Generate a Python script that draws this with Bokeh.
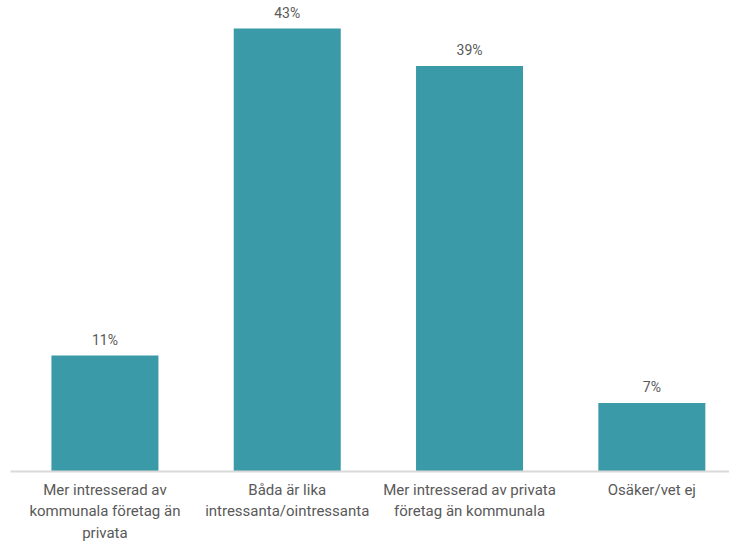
from bokeh.plotting import figure
from bokeh.models import Range1d, FixedTicker, ColumnDataSource, LabelSet
from bokeh.core.properties import value
from bokeh.embed import file_html
from bokeh.resources import INLINE

categories = [
    "Mer intresserad av\nkommunala företag än\nprivata",
    "Båda är lika\nintressanta/ointressanta",
    "Mer intresserad av privata\nföretag än kommunala",
    "Osäker/vet ej",
]
values = [11.15, 42.6, 39.0, 6.6]
value_labels = ["11%", "43%", "39%", "7%"]

positions = list(range(len(categories)))

p = figure(width=729, height=544, output_backend="svg", toolbar_location=None,
           x_range=Range1d(-0.518, 3.426), y_range=Range1d(0, 45.3),
           min_border_left=10, min_border_right=0, min_border_top=0, min_border_bottom=0)

src = ColumnDataSource(dict(x=positions, top=values, lab=value_labels))
p.vbar(x="x", top="top", width=0.587, source=src, color="#3B9AA7", line_color=None)

labels = LabelSet(x="x", y="top", text="lab", source=src, text_align="center",
                  text_baseline="bottom", y_offset=8, text_font_size="14px",
                  text_color="#595959", text_font=value("Roboto"))
p.add_layout(labels)

p.yaxis.visible = False
p.xgrid.visible = False
p.ygrid.visible = False
p.outline_line_color = None

ax = p.xaxis[0]
ax.ticker = FixedTicker(ticks=positions)
ax.major_label_overrides = {i: c for i, c in zip(positions, categories)}
ax.major_tick_line_color = None
ax.minor_tick_line_color = None
ax.axis_line_color = "#d9d9d9"
ax.axis_line_width = 2
ax.major_label_text_font = "Roboto"
ax.major_label_text_font_size = "15px"
ax.major_label_text_color = "#595959"
ax.major_label_standoff = 3

open("out.html", "w").write(file_html(p, INLINE))
